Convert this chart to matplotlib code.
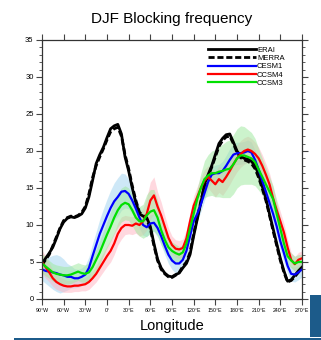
import numpy as np
import matplotlib
matplotlib.use('Agg')
import matplotlib.pyplot as plt
from matplotlib.patches import Rectangle

plt.rcParams['font.family'] = ['Liberation Sans', 'DejaVu Sans']

lon = np.arange(-90, 271, 5)

erai = [4.8, 5.5, 6.2, 7.0, 8.2, 9.5, 10.4, 10.9, 11.1, 11.0,
        11.2, 11.5, 12.3, 13.8, 16.0, 18.3, 19.5, 20.5, 21.8, 23.0,
        23.4, 23.6, 22.3, 19.2, 17.3, 15.0, 13.0, 11.5, 11.2, 11.0,
        9.8, 7.5, 5.4, 4.2, 3.5, 3.1, 3.0, 3.3, 3.5, 4.2,
        4.8, 6.0, 8.5, 10.8, 13.0, 15.5, 16.8, 18.0, 19.5, 21.0,
        21.7, 22.2, 22.3, 21.2, 20.0, 19.3, 19.0, 18.9, 18.6, 18.0,
        16.8, 15.2, 13.6, 11.5, 9.5, 7.5, 5.5, 3.8, 2.4, 2.6,
        3.2, 3.8, 4.3]
merra = [4.6, 5.3, 6.0, 7.2, 8.4, 9.6, 10.6, 11.0, 11.2, 11.1,
         11.3, 11.7, 12.5, 14.2, 16.4, 18.0, 19.2, 20.3, 21.5, 22.6,
         23.0, 23.2, 22.0, 19.5, 17.6, 15.3, 13.3, 11.7, 11.3, 10.8,
         9.5, 7.2, 5.2, 4.0, 3.4, 3.0, 2.9, 3.2, 3.6, 4.4,
         5.0, 6.3, 8.8, 11.0, 13.2, 15.3, 16.6, 17.8, 19.2, 20.6,
         21.4, 21.9, 22.0, 21.0, 19.8, 19.1, 18.8, 18.6, 18.3, 17.6,
         16.4, 14.9, 13.3, 11.3, 9.2, 7.2, 5.2, 3.6, 2.3, 2.5,
         3.0, 3.6, 4.1]
cesm1 = [4.0, 3.8, 3.7, 3.6, 3.5, 3.3, 3.2, 3.0, 3.0, 2.8,
         2.8, 3.0, 3.3, 4.2, 5.8, 7.3, 8.8, 10.0, 11.2, 12.3,
         13.2, 13.8, 14.5, 14.6, 14.2, 13.3, 12.2, 11.0, 10.0, 9.7,
         10.2, 10.3, 9.6, 8.5, 7.2, 6.0, 5.2, 4.8, 4.8, 5.3,
         6.5, 8.5, 10.5, 11.5, 12.8, 14.3, 15.8, 16.8, 17.0, 17.0,
         17.3, 18.0, 18.8, 19.5, 19.7, 19.7, 19.8, 20.0, 19.8, 18.8,
         17.5, 16.0, 14.5, 13.0, 11.5, 9.8, 7.8, 6.2, 4.5, 3.4,
         3.3, 3.6, 4.0]
ccsm4 = [5.0, 4.3, 3.6, 2.8, 2.3, 2.0, 1.8, 1.7, 1.7, 1.8,
         1.8, 1.9, 2.0, 2.3, 2.8, 3.4, 4.2, 5.0, 5.8, 6.5,
         7.5, 8.8, 9.6, 10.0, 10.0, 9.9, 10.2, 10.0, 10.5, 11.5,
         13.3, 14.0, 12.5, 11.3, 9.8, 8.3, 7.3, 6.8, 6.7, 6.9,
         8.2, 10.5, 12.6, 13.8, 15.0, 16.0, 16.5, 16.0, 15.5, 16.2,
         15.8, 16.5, 17.3, 18.2, 19.0, 19.6, 20.0, 20.2, 20.0, 19.6,
         19.0, 18.0, 16.8, 15.5, 13.6, 12.0, 10.5, 9.0, 7.0, 5.3,
         4.7, 5.3, 5.5]
ccsm3 = [4.8, 4.4, 4.0, 3.6, 3.4, 3.3, 3.2, 3.2, 3.3, 3.5,
         3.7, 3.5, 3.4, 3.6, 4.3, 5.3, 6.3, 7.5, 8.7, 9.8,
         11.0, 12.0, 12.7, 13.0, 12.8, 12.0, 11.0, 10.5, 10.5, 11.3,
         11.8, 12.0, 11.0, 9.3, 8.0, 7.0, 6.5, 6.2, 6.0, 6.3,
         7.5, 9.5, 11.5, 13.5, 15.0, 16.2, 16.7, 17.0, 17.0, 17.2,
         17.3, 17.5, 17.6, 18.2, 19.0, 19.4, 19.4, 19.2, 19.0, 18.5,
         17.5, 16.5, 15.5, 14.5, 13.5, 11.5, 9.5, 7.5, 5.8, 5.2,
         4.8, 5.0, 5.0]

# ensemble spread (half width)
cesm1_sp = [1.5, 1.7, 2.0, 2.3, 2.5, 2.5, 2.2, 1.8, 1.5,
            1.3, 1.2, 1.2, 1.3, 1.5, 1.7, 1.8, 2.0, 2.2,
            2.3, 2.4, 2.5, 2.6, 2.5, 2.3, 2.0, 1.8, 1.6,
            1.5, 1.4, 1.3, 1.2, 1.2, 1.2, 1.2, 1.2, 1.2,
            1.2, 1.3, 1.3, 1.2, 1.1, 1.0, 1.0, 1.0, 1.0,
            1.0, 1.0, 1.0, 1.1, 1.2, 1.3, 1.4, 1.5, 1.5,
            1.5, 1.5, 1.5, 1.5, 1.4, 1.3, 1.3, 1.3, 1.3,
            1.3, 1.3, 1.3, 1.2, 1.2, 1.0, 1.0, 1.0, 1.0,
            1.0]
ccsm4_sp = [1.6, 1.5, 1.3, 1.1, 1.0, 0.9, 0.9, 0.8, 0.8,
            0.8, 0.8, 0.8, 0.9, 1.0, 1.0, 1.1, 1.2, 1.3,
            1.4, 1.5, 1.5, 1.5, 1.5, 1.3, 1.2, 1.2, 1.3,
            1.5, 1.8, 2.2, 2.5, 2.5, 2.0, 1.8, 1.5, 1.3,
            1.2, 1.2, 1.2, 1.2, 1.2, 1.2, 1.3, 1.4, 1.5,
            1.5, 1.5, 1.6, 1.7, 1.8, 1.8, 1.8, 1.8, 1.8,
            1.8, 1.8, 1.8, 1.8, 1.7, 1.6, 1.5, 1.5, 1.5,
            1.5, 1.5, 1.4, 1.3, 1.2, 1.1, 1.0, 1.0, 1.0,
            1.0]
ccsm3_sp = [1.3, 1.3, 1.2, 1.2, 1.2, 1.2, 1.2, 1.2, 1.2,
            1.2, 1.2, 1.2, 1.2, 1.3, 1.4, 1.5, 1.6, 1.7,
            1.8, 2.0, 2.2, 2.3, 2.3, 2.3, 2.2, 2.1, 2.0,
            2.0, 2.3, 2.8, 3.0, 2.8, 2.4, 2.0, 1.6, 1.3,
            1.2, 1.2, 1.1, 1.0, 1.0, 1.0, 1.2, 1.5, 2.0,
            2.5, 2.8, 3.0, 3.2, 3.4, 3.6, 3.8, 3.9, 4.0,
            4.0, 4.0, 3.9, 3.7, 3.5, 3.2, 2.8, 2.5, 2.2,
            2.0, 1.8, 1.6, 1.4, 1.2, 1.1, 1.0, 1.0, 1.0,
            1.0]

xticks = np.arange(-90, 271, 30)
xlabels = ['90°W', '60°W', '30°W', '0°', '30°E', '60°E', '90°E',
           '120°E', '150°E', '180°E', '210°E', '240°E', '270°E']

fig = plt.figure(figsize=(3.21, 3.40), dpi=100)
ax = fig.add_axes([0.1308, 0.1206, 0.81, 0.7618])

bands = [(cesm1, cesm1_sp, '#9fd3f0'), (ccsm4, ccsm4_sp, '#ffb3c0'),
         (ccsm3, ccsm3_sp, '#9be89b')]
for m, sp, c in bands:
    m = np.array(m)
    sp = np.array(sp)
    ax.fill_between(lon, m - sp, m + sp, color=c, alpha=0.5, lw=0)

ax.plot(lon, erai, color='black', lw=2.0, label='ERAI')
ax.plot(lon, merra, color='black', lw=2.0, dashes=(2.2, 1.0), label='MERRA')
ax.plot(lon, cesm1, color='#0000ff', lw=1.6, label='CESM1')
ax.plot(lon, ccsm4, color='#ff0000', lw=1.6, label='CCSM4')
ax.plot(lon, ccsm3, color='#00e000', lw=1.6, label='CCSM3')

ax.set_xlim(-90, 270)
ax.set_ylim(0, 35)
ax.set_xticks(xticks)
ax.set_xticklabels(xlabels, fontsize=3.8)
ax.set_yticks(np.arange(0, 36, 5))
ax.set_yticks(np.arange(0, 36, 1), minor=True)
ax.tick_params(axis='y', labelsize=5.5, pad=2)
ax.tick_params(axis='x', pad=2.5)
ax.tick_params(which='major', length=4, width=0.8, direction='out',
               top=True, right=True, color='#444444')
ax.tick_params(which='minor', length=2, width=0.6, direction='out',
               right=True, color='#444444')
for s in ax.spines.values():
    s.set_linewidth(0.9)
    s.set_color('#333333')

ax.set_title('DJF Blocking frequency', fontsize=11, pad=12)
ax.set_xlabel('Longitude', fontsize=10.5, labelpad=4)

leg = ax.legend(loc='upper left', bbox_to_anchor=(0.64, 0.975), frameon=False,
                fontsize=5.5, handlelength=6.2, handletextpad=0.15,
                labelspacing=0.12, borderpad=0, borderaxespad=0)

fig.patches.append(Rectangle((310 / 321, 1 - 337 / 340), 11 / 321, 42 / 340,
                             transform=fig.transFigure, color='#1c5b8a', lw=0))
fig.patches.append(Rectangle((14 / 321, 0), 307 / 321, 2.5 / 340,
                             transform=fig.transFigure, color='#1c5b8a', lw=0))

fig.savefig('out.png', dpi=100)
